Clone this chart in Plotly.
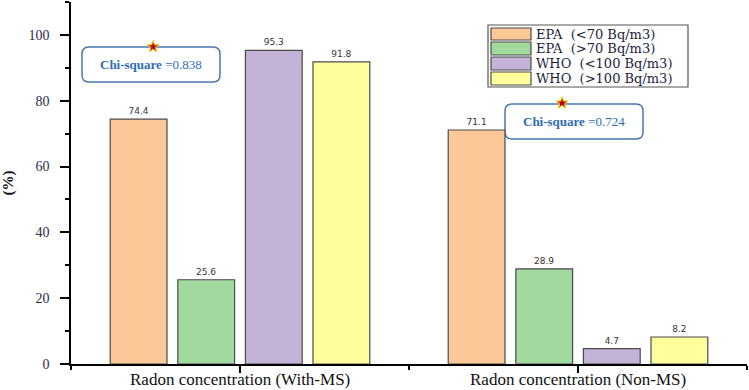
import plotly.graph_objects as go

categories = ["Radon concentration (With-MS)", "Radon concentration (Non-MS)"]
series_names = ["EPA  (&lt;70 Bq/m3)", "EPA  (&gt;70 Bq/m3)", "WHO  (&lt;100 Bq/m3)", "WHO  (&gt;100 Bq/m3)"]
epa_low = [74.4, 71.1]
epa_high = [25.6, 28.9]
who_low = [95.3, 4.7]
who_high = [91.8, 8.2]
chi_labels = ["0.838", "0.724"]
chi_x = [-0.257, 0.953]
chi_y = [96.4, 79.3]

colors = ["#FDC898", "#A1D99E", "#C3B3D7", "#FFFF9E"]
series = [epa_low, epa_high, who_low, who_high]
xpos = list(range(len(categories)))

FONT = "Liberation Serif"
fig = go.Figure()
for name, vals, col in zip(series_names, series, colors):
    fig.add_trace(go.Bar(
        x=xpos, y=vals, name=name, showlegend=False,
        marker=dict(color=col, line=dict(color="#4a4a4a", width=1.2)),
        text=[f"{v:.1f}" for v in vals], textposition="outside",
        textfont=dict(family="DejaVu Sans", size=9, color="#333333"),
        cliponaxis=False,
    ))

fig.add_trace(go.Scatter(
    x=chi_x, y=chi_y, mode="markers", showlegend=False,
    marker=dict(symbol="star", size=9, color="#c00000", line=dict(color="#f5d800", width=1)),
    cliponaxis=False,
))

L, R, T, B = 71, 747, 2, 364
W, H = R - L, B - T
def px(x):
    return (x - L) / W
def py(y):
    return (B - y) / H

shapes = []
annotations = []

# Category labels below the axis
for xv, cat in zip(xpos, categories):
    annotations.append(dict(xref="x", yref="paper", x=xv, y=py(380), xanchor="center", yanchor="middle",
                            text=cat, showarrow=False, font=dict(family=FONT, size=17, color="#111111")))

# Chi-square boxes
boxes = [(82, 220, 47, 82), (505, 643, 104, 139)]
for (x0p, x1p, y0p, y1p), lab in zip(boxes, chi_labels):
    x0, x1 = px(x0p), px(x1p)
    yt, yb = py(y0p), py(y1p)
    rx, ry = 7 / W, 7 / H
    path = (f"M {x0+rx},{yt} L {x1-rx},{yt} Q {x1},{yt} {x1},{yt-ry} "
            f"L {x1},{yb+ry} Q {x1},{yb} {x1-rx},{yb} L {x0+rx},{yb} "
            f"Q {x0},{yb} {x0},{yb+ry} L {x0},{yt-ry} Q {x0},{yt} {x0+rx},{yt} Z")
    shapes.append(dict(type="path", xref="paper", yref="paper", path=path,
                       line=dict(color="#4a78b0", width=1.5), fillcolor="rgba(255,255,255,0)", layer="below"))
    annotations.append(dict(xref="paper", yref="paper", x=(x0 + x1) / 2, y=(yt + yb) / 2,
                            xanchor="center", yanchor="middle",
                            text="<b>Chi-square</b> =" + lab, showarrow=False,
                            font=dict(family=FONT, size=13, color="#2e6db4")))

# Legend (drawn as a box with swatches)
shapes.append(dict(type="rect", xref="paper", yref="paper", x0=px(488), x1=px(688), y0=py(87), y1=py(25),
                   line=dict(color="#555555", width=1.2), fillcolor="white", layer="above"))
rows = [(28, 40), (42, 55), (57, 70), (72, 85)]
for (ya, yb_), name, col in zip(rows, series_names, colors):
    shapes.append(dict(type="rect", xref="paper", yref="paper", x0=px(491), x1=px(531), y0=py(yb_), y1=py(ya),
                       line=dict(color="#4a4a4a", width=1.2), fillcolor=col, layer="above"))
    annotations.append(dict(xref="paper", yref="paper", x=px(534), y=py((ya + yb_) / 2),
                            xanchor="left", yanchor="middle", showarrow=False, text=name,
                            font=dict(family="DejaVu Serif", size=13, color="#1e1e3c")))

fig.update_layout(
    width=749, height=390,
    margin=dict(l=L, r=749 - R, t=T, b=390 - B),
    paper_bgcolor="white", plot_bgcolor="white",
    barmode="group", bargap=0.2, bargroupgap=0.16,
    font=dict(family=FONT, color="#1e1e3c"),
    shapes=shapes, annotations=annotations,
    showlegend=False,
    xaxis=dict(range=[-0.5, 1.5], tickmode="array", tickvals=xpos, showticklabels=False,
               showline=True, linecolor="black", linewidth=1.5, showgrid=False, zeroline=False,
               ticks="outside", ticklen=7, tickwidth=1.5, tickcolor="black", automargin=False,
               minor=dict(tick0=0.5, dtick=1, ticks="outside", ticklen=4, tickwidth=1.5, tickcolor="black")),
    yaxis=dict(range=[0, 110], tickmode="linear", tick0=0, dtick=20,
               showline=True, linecolor="black", linewidth=1.5, showgrid=False, zeroline=False,
               ticks="outside", ticklen=9, tickwidth=1.5, tickcolor="black", automargin=False,
               ticklabelstandoff=8,
               tickfont=dict(family=FONT, size=14, color="#2a2a4a"),
               minor=dict(tick0=0, dtick=10, ticks="outside", ticklen=4, tickwidth=1.5, tickcolor="black"),
               title=dict(text="<b>(%)</b>", font=dict(family=FONT, size=15, color="#111111"), standoff=18)),
)

fig.write_html("out.html", config={"displayModeBar": False},
               post_script="document.body.style.margin='0px';")
